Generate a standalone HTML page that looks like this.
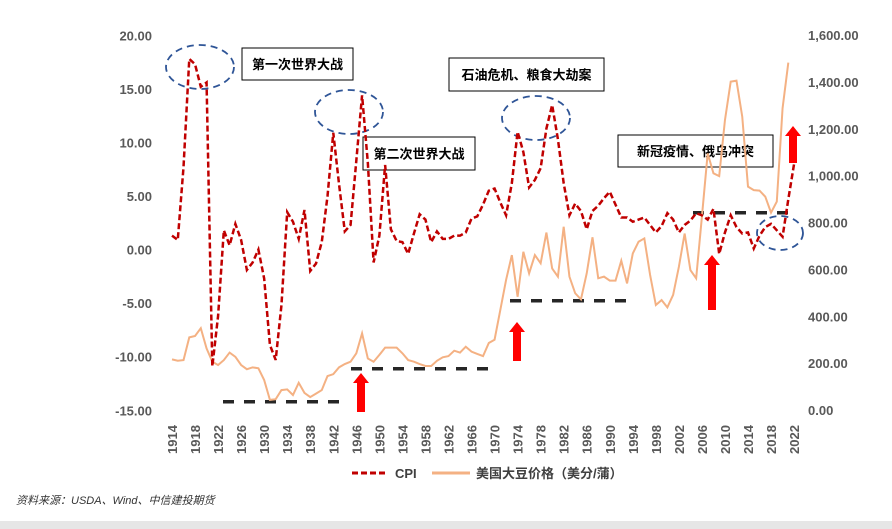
<!DOCTYPE html>
<html><head><meta charset="utf-8"><style>
body{margin:0;width:892px;height:529px;background:#fff;overflow:hidden;font-family:"Liberation Sans","Noto Sans CJK SC",sans-serif}
svg{position:absolute;left:0;top:0}
</style></head><body>
<svg id="chart" width="892" height="529">
<rect x="0" y="521" width="892" height="8" fill="#e6e6e6"/>
<g id="axes"></g>
<g id="annot"></g>
<g id="series"></g>
<g>
<line x1="352" y1="473" x2="388" y2="473" stroke="#c00000" stroke-width="3" stroke-dasharray="6,3"/>
<text x="395" y="478" font-size="13" font-weight="bold" fill="#404040">CPI</text>
<line x1="432" y1="473" x2="470" y2="473" stroke="#f4b183" stroke-width="3"/>
<text x="476" y="478" font-size="13" font-weight="bold" fill="#404040">美国大豆价格（美分/蒲）</text>
</g>
<text x="16" y="504" font-size="11" font-style="italic" fill="#333">资料来源：USDA、Wind、中信建投期货</text>
</svg>
<script>
const years=[];for(let y=1914;y<=2022;y++)years.push(y);
const cpi=[1.3,0.9,7.7,17.8,17.3,15.2,15.6,-10.9,-6.2,1.8,0.4,2.4,0.9,-1.9,-1.2,0.0,-2.7,-8.9,-10.3,-5.2,3.5,2.6,1.0,3.7,-2.0,-1.3,0.7,5.0,10.9,6.1,1.7,2.3,8.3,14.4,8.1,-1.2,1.3,7.9,1.9,0.8,0.7,-0.4,1.5,3.3,2.8,0.7,1.7,1.0,1.0,1.3,1.3,1.6,2.9,3.1,4.2,5.5,5.7,4.4,3.2,6.2,11.0,9.1,5.8,6.5,7.6,11.3,13.5,10.3,6.2,3.2,4.3,3.6,1.9,3.6,4.1,4.8,5.4,4.2,3.0,3.0,2.6,2.8,3.0,2.3,1.6,2.2,3.4,2.8,1.6,2.3,2.7,3.4,3.2,2.8,3.8,-0.4,1.6,3.2,2.1,1.5,1.6,0.1,1.3,2.1,2.4,1.8,1.2,4.7,8.0];
const soy=[216,210,213,310,316,349,263,206,192,213,245,227,192,174,182,178,128,43,46,85,88,64,116,73,55,70,85,145,153,182,196,206,242,327,220,206,235,266,266,266,242,213,206,196,188,188,210,225,230,253,245,270,249,239,230,286,300,427,555,661,483,675,583,661,626,757,604,569,782,569,498,472,583,737,562,569,552,552,637,540,668,718,732,577,448,469,438,491,611,753,597,562,825,1095,1010,998,1237,1401,1405,1252,953,938,936,910,842,889,1287,1482];
const leftTicks=[20,15,10,5,0,-5,-10,-15];
const rightTicks=[1600,1400,1200,1000,800,600,400,200,0];
const NS="http://www.w3.org/2000/svg";
const xs=y=>172+(y-1914)*5.76;
const yl=v=>249.6-v*10.714;
const yr=v=>410-v*375/1600;
function mk(tag,attrs,parent){const e=document.createElementNS(NS,tag);for(const k in attrs)e.setAttribute(k,attrs[k]);parent.appendChild(e);return e;}
const axes=document.getElementById('axes');
leftTicks.forEach(v=>{const t=mk('text',{x:152,y:yl(v)+5,'text-anchor':'end','font-size':13,'font-weight':'bold',fill:'#595959'},axes);t.textContent=v.toFixed(2);

});
rightTicks.forEach(v=>{const t=mk('text',{x:808,y:yr(v)+5,'font-size':13,'font-weight':'bold',fill:'#595959'},axes);t.textContent=v.toLocaleString('en-US',{minimumFractionDigits:2});

});
for(let y=1914;y<=2022;y+=4){const x=xs(y);const t=mk('text',{x:0,y:0,transform:`translate(${x+5},454) rotate(-90)`,'font-size':13,'font-weight':'bold',fill:'#595959'},axes);t.textContent=y;

}
const ann=document.getElementById('annot');
[[223,340,401.7],[351,490,368.7],[510,635,300.7],[693,792,212.7]].forEach(d=>{const l=mk('line',{x1:d[0],x2:d[1],y1:d[2],y2:d[2],stroke:'#262626','stroke-width':3.5,'stroke-dasharray':'11,10'},ann);

});
[[200,67,34,22],[349,112,34,22],[536,118,34,22],[780,233,23,17]].forEach(d=>{const e=mk('ellipse',{cx:d[0],cy:d[1],rx:d[2],ry:d[3],fill:'none',stroke:'#2f5597','stroke-width':1.8,'stroke-dasharray':'7,5'},ann);

});
[[361,412,373],[517,361,322],[712,310,255],[793,163,126]].forEach(d=>{const [x,b,t]=d;const p=mk('polygon',{points:`${x-4},${b} ${x+4},${b} ${x+4},${t+10} ${x+8},${t+10} ${x},${t} ${x-8},${t+10} ${x-4},${t+10}`,fill:'#ff0000'},ann);

});
[[242,48,111,32,'第一次世界大战'],[363,137,112,33,'第二次世界大战'],[449,58,155,33,'石油危机、粮食大劫案'],[618,135,155,32,'新冠疫情、俄乌冲突']].forEach(d=>{mk('rect',{x:d[0],y:d[1],width:d[2],height:d[3],fill:'#fff',stroke:'#000','stroke-width':1},ann);
const t=mk('text',{x:d[0]+d[2]/2,y:d[1]+d[3]/2+5,'text-anchor':'middle','font-size':13,'font-weight':'bold',fill:'#000'},ann);t.textContent=d[4];

});
const ser=document.getElementById('series');
const soyPath=mk('polyline',{points:years.map((y,i)=>xs(y)+','+yr(soy[i])).join(' '),fill:'none',stroke:'#f4b183','stroke-width':2},ser);


const cpiPath=mk('polyline',{points:years.map((y,i)=>xs(y)+','+yl(cpi[i])).join(' '),fill:'none',stroke:'#c00000','stroke-width':2.5,'stroke-dasharray':'6,3'},ser);


</script>
</body></html>
